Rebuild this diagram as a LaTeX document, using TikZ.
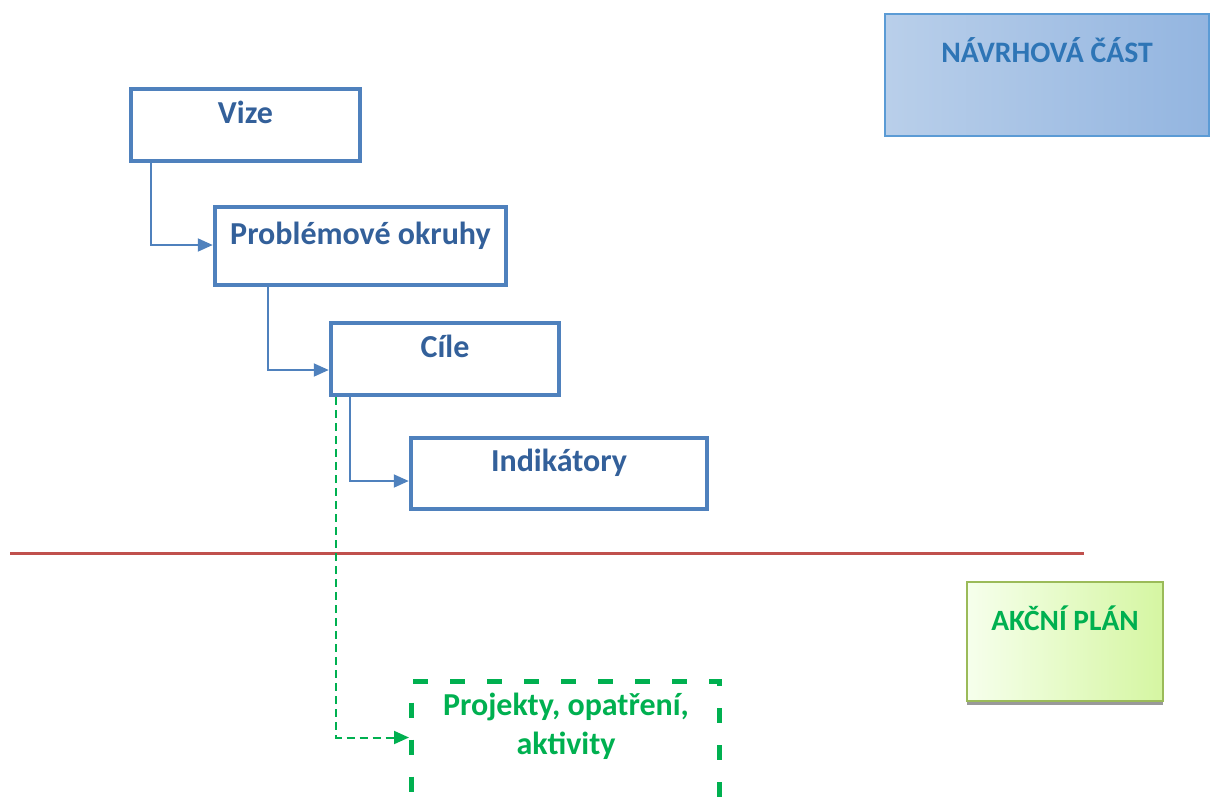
\documentclass[tikz,border=0pt]{standalone}
\usepackage{fontspec}
\setmainfont{Carlito}
\usetikzlibrary{arrows.meta,calc,shadows}
\definecolor{boxblue}{HTML}{4F81BD}
\definecolor{txtblue}{HTML}{33609A}
\definecolor{navtxt}{HTML}{2E75B6}
\definecolor{navleft}{HTML}{B9CFEA}
\definecolor{navright}{HTML}{93B5E0}
\definecolor{navborder}{HTML}{5B9BD5}
\definecolor{grn}{HTML}{00B050}
\definecolor{akleft}{HTML}{F6FFEC}
\definecolor{akright}{HTML}{D5F6A2}
\definecolor{akborder}{HTML}{9BBB59}
\definecolor{redline}{HTML}{C0504D}
\tikzset{
  stepbox/.style={draw=boxblue, line width=4.5pt, fill=white, inner sep=0pt,
    font=\fontsize{32}{38}\selectfont\bfseries, text=txtblue,
    text height=22pt, text depth=26pt},
  conn/.style={draw=boxblue, line width=2pt, -{Triangle[length=15pt,width=13pt]}},
  gconn/.style={draw=grn, line width=2pt, dash pattern=on 8pt off 5pt,
    -{Triangle[length=15pt,width=13pt]}},
  projbox/.style={draw=grn, line width=5pt, dash pattern=on 15pt off 22pt, inner sep=0pt},
}
\begin{document}
\begin{tikzpicture}[x=1pt,y=-1pt]
\useasboundingbox (0,0) rectangle (1210,796);
% header boxes
\node[draw=navborder, line width=1.5pt, left color=navleft, right color=navright,
  minimum width=324pt, minimum height=122pt, inner sep=0pt,
  font=\fontsize{29.7}{35}\selectfont\bfseries, text=navtxt,
  text height=20pt, text depth=46pt] (navrh) at (1047,75) {NÁVRHOVÁ ČÁST};
\node[draw=akborder, line width=2.5pt, left color=akleft, right color=akright,
  minimum width=196pt, minimum height=119pt, inner sep=0pt,
  drop shadow={shadow xshift=0pt, shadow yshift=-4pt, fill=black!40, opacity=1},
  font=\fontsize{29.4}{35}\selectfont\bfseries, text=grn,
  text height=20pt, text depth=43pt] (akcni) at (1065,641.5) {AKČNÍ PLÁN};
% hierarchy
\node[stepbox, minimum width=229pt, minimum height=72pt] (vize) at (245.5,125) {Vize};
\node[stepbox, minimum width=291pt, minimum height=78pt] (prob) at (360.5,246) {Problémové okruhy};
\node[stepbox, minimum width=228pt, minimum height=72pt] (cile) at (445,359) {Cíle};
\node[stepbox, minimum width=296pt, minimum height=71pt] (indik) at (559,473.5) {Indikátory};
\node[projbox, minimum width=308pt, minimum height=140pt] (proj) at (565.5,751.5) {};
\node[font=\fontsize{32}{39}\selectfont\bfseries, text=grn, align=center, inner sep=0pt]
  (projtxt) at (566,726) {Projekty, opatření,\\aktivity};
% separator
\draw[redline, line width=3pt] (10,553) -- (1084,553);
% connectors
\draw[conn] ($(vize.south west)+(22,0)$) |- ($(prob.west)+(0,-1)$);
\draw[conn] ($(prob.south west)+(55,0)$) |- ($(cile.west)+(0,11)$);
\draw[conn] ($(cile.south west)+(21,0)$) |- ($(indik.west)+(0,7.5)$);
\draw[gconn] ($(cile.south west)+(7,0)$) |- ($(proj.west)+(0,-14)$);
\end{tikzpicture}
\end{document}
